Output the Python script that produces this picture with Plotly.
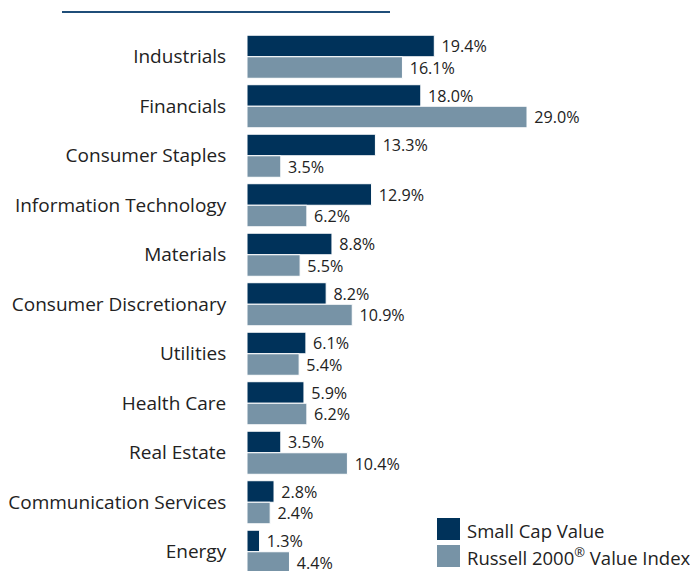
import plotly.graph_objects as go

categories = ["Industrials", "Financials", "Consumer Staples", "Information Technology",
              "Materials", "Consumer Discretionary", "Utilities", "Health Care",
              "Real Estate", "Communication Services", "Energy"]
small_cap_value = [19.4, 18.0, 13.3, 12.9, 8.8, 8.2, 6.1, 5.9, 3.5, 2.8, 1.3]
russell_2000_value = [16.1, 29.0, 3.5, 6.2, 5.5, 10.9, 5.4, 6.2, 10.4, 2.4, 4.4]
series_names = ["Small Cap Value", "Russell 2000<sup>®</sup> Value Index"]

DARK = "#00325a"
LIGHT = "#7793a6"
TXT = "#222222"
FONT = "Open Sans"
OFF = 8                      # page body margin
W, H = 698 - OFF, 571 - OFF  # figure size
ML, MT = 247 - OFF, 24       # plot-area origin in figure px
PW, PH = W - ML, H - MT


def px_x(x):                 # page px -> paper
    return (x - OFF - ML) / PW


def px_y(y):
    return (H - (y - OFF)) / PH


fig = go.Figure()
for name, vals, col in [(series_names[0], small_cap_value, DARK),
                        (series_names[1], russell_2000_value, LIGHT)]:
    fig.add_trace(go.Bar(
        y=categories, x=vals, orientation="h", name=name,
        marker=dict(color=col, line=dict(color="white", width=1)),
        text=[f" {v:.1f}%" for v in vals], textposition="outside",
        textfont=dict(family=FONT, size=18, color=TXT),
        cliponaxis=False, showlegend=False,
    ))

shapes = [
    dict(type="line", xref="paper", yref="paper", x0=px_x(62), x1=px_x(390),
         y0=px_y(12), y1=px_y(12), line=dict(color="#1f4e79", width=2)),
    dict(type="rect", xref="paper", yref="paper", x0=px_x(437), x1=px_x(460),
         y0=px_y(540), y1=px_y(518), fillcolor=DARK, line=dict(width=0)),
    dict(type="rect", xref="paper", yref="paper", x0=px_x(437), x1=px_x(460),
         y0=px_y(567), y1=px_y(545), fillcolor=LIGHT, line=dict(width=0)),
]
annotations = [
    dict(xref="paper", yref="paper", x=px_x(465), y=px_y(530), text=series_names[0],
         showarrow=False, xanchor="left", yanchor="middle",
         font=dict(family=FONT, size=18.5, color=TXT)),
    dict(xref="paper", yref="paper", x=px_x(465), y=px_y(556), text=series_names[1],
         showarrow=False, xanchor="left", yanchor="middle",
         font=dict(family=FONT, size=18.5, color=TXT)),
]

span = PH / 49.5
fig.update_layout(
    width=W, height=H,
    margin=dict(l=ML, r=0, t=MT, b=0),
    paper_bgcolor="white", plot_bgcolor="white",
    barmode="group", bargap=0.13, bargroupgap=0,
    xaxis=dict(range=[0, PW / 9.655], visible=False, showgrid=False, zeroline=False),
    yaxis=dict(range=[-0.5 + span, -0.5], showgrid=False, zeroline=False,
               ticks="outside", ticklen=16, tickcolor="rgba(0,0,0,0)",
               tickfont=dict(family=FONT, size=19, color=TXT), showline=False),
    shapes=shapes, annotations=annotations,
)
fig.write_html("out.html")
